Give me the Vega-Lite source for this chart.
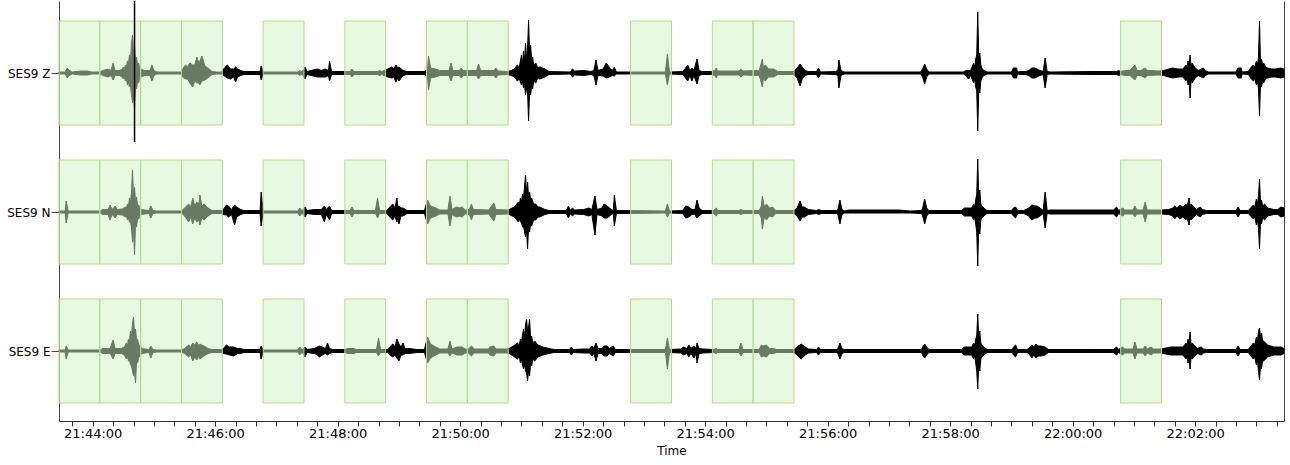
{
"$schema": "https://vega.github.io/schema/vega-lite/v6.json",
"autosize": {"type": "fit", "contains": "padding"},
"width": 1290,
"height": 465,
"padding": {"left": 0, "top": 0, "right": 4, "bottom": 9},
"background": "white",
"config": {"view": {"stroke": null}, "font": "DejaVu Sans"},
"datasets": {
"boxes": [
{"t":"2020-01-01T21:43:27Z","t2":"2020-01-01T21:44:07Z"},{"t":"2020-01-01T21:44:07Z","t2":"2020-01-01T21:44:47Z"},{"t":"2020-01-01T21:44:47Z","t2":"2020-01-01T21:45:27Z"},{"t":"2020-01-01T21:45:27Z","t2":"2020-01-01T21:46:07Z"},
{"t":"2020-01-01T21:46:47Z","t2":"2020-01-01T21:47:27Z"},{"t":"2020-01-01T21:48:07Z","t2":"2020-01-01T21:48:47Z"},{"t":"2020-01-01T21:49:27Z","t2":"2020-01-01T21:50:07Z"},{"t":"2020-01-01T21:50:07Z","t2":"2020-01-01T21:50:47Z"},
{"t":"2020-01-01T21:52:47Z","t2":"2020-01-01T21:53:27Z"},{"t":"2020-01-01T21:54:07Z","t2":"2020-01-01T21:54:47Z"},{"t":"2020-01-01T21:54:47Z","t2":"2020-01-01T21:55:27Z"},{"t":"2020-01-01T22:00:47Z","t2":"2020-01-01T22:01:27Z"}
],
"picks": [{"t":"2020-01-01T21:44:41Z"}],
"wave": [
{"c":"Z","t":"2020-01-01T21:43:27Z","u":1,"d":-1},{"c":"Z","t":"2020-01-01T21:43:33Z","u":1,"d":-1},{"c":"Z","t":"2020-01-01T21:43:35Z","u":5,"d":-5},{"c":"Z","t":"2020-01-01T21:43:37Z","u":2.5,"d":-2.5},{"c":"Z","t":"2020-01-01T21:43:40Z","u":1,"d":-1},{"c":"Z","t":"2020-01-01T21:43:48Z","u":2,"d":-2},{"c":"Z","t":"2020-01-01T21:43:55Z","u":2,"d":-2},{"c":"Z","t":"2020-01-01T21:43:59Z","u":1,"d":-1},
{"c":"Z","t":"2020-01-01T21:44:07Z","u":1,"d":-1},{"c":"Z","t":"2020-01-01T21:44:10Z","u":2.5,"d":-2.5},{"c":"Z","t":"2020-01-01T21:44:15Z","u":4,"d":-4},{"c":"Z","t":"2020-01-01T21:44:18Z","u":2.5,"d":-2.5},{"c":"Z","t":"2020-01-01T21:44:20Z","u":10,"d":-7},{"c":"Z","t":"2020-01-01T21:44:22Z","u":2.5,"d":-2.5},{"c":"Z","t":"2020-01-01T21:44:26Z","u":2.5,"d":-2.5},
{"c":"Z","t":"2020-01-01T21:44:29Z","u":4,"d":-4},{"c":"Z","t":"2020-01-01T21:44:30Z","u":6,"d":-6},{"c":"Z","t":"2020-01-01T21:44:31Z","u":4,"d":-4},{"c":"Z","t":"2020-01-01T21:44:32Z","u":8,"d":-8},{"c":"Z","t":"2020-01-01T21:44:33Z","u":6,"d":-6},{"c":"Z","t":"2020-01-01T21:44:34Z","u":12,"d":-12},{"c":"Z","t":"2020-01-01T21:44:35Z","u":9,"d":-9},{"c":"Z","t":"2020-01-01T21:44:36Z","u":18,"d":-14},{"c":"Z","t":"2020-01-01T21:44:37Z","u":12,"d":-12},{"c":"Z","t":"2020-01-01T21:44:38Z","u":30,"d":-22},{"c":"Z","t":"2020-01-01T21:44:39Z","u":38,"d":-30},{"c":"Z","t":"2020-01-01T21:44:40Z","u":20,"d":-25},{"c":"Z","t":"2020-01-01T21:44:41Z","u":28,"d":-35},{"c":"Z","t":"2020-01-01T21:44:42Z","u":12,"d":-12},{"c":"Z","t":"2020-01-01T21:44:43Z","u":16,"d":-16},{"c":"Z","t":"2020-01-01T21:44:44Z","u":8,"d":-8},{"c":"Z","t":"2020-01-01T21:44:45Z","u":10,"d":-10},{"c":"Z","t":"2020-01-01T21:44:46Z","u":5,"d":-5},{"c":"Z","t":"2020-01-01T21:44:47Z","u":4,"d":-4},
{"c":"Z","t":"2020-01-01T21:44:51Z","u":2.5,"d":-2.5},{"c":"Z","t":"2020-01-01T21:44:56Z","u":2.5,"d":-2.5},{"c":"Z","t":"2020-01-01T21:44:58Z","u":8,"d":-8},
{"c":"Z","t":"2020-01-01T21:45:00Z","u":2.5,"d":-2.5},{"c":"Z","t":"2020-01-01T21:45:03Z","u":1,"d":-1},{"c":"Z","t":"2020-01-01T21:45:27Z","u":1,"d":-1},{"c":"Z","t":"2020-01-01T21:45:28Z","u":4,"d":-4},{"c":"Z","t":"2020-01-01T21:45:31Z","u":8,"d":-6},{"c":"Z","t":"2020-01-01T21:45:33Z","u":6,"d":-6},{"c":"Z","t":"2020-01-01T21:45:35Z","u":10,"d":-10},{"c":"Z","t":"2020-01-01T21:45:38Z","u":8,"d":-14},{"c":"Z","t":"2020-01-01T21:45:40Z","u":8,"d":-8},{"c":"Z","t":"2020-01-01T21:45:42Z","u":16,"d":-10},{"c":"Z","t":"2020-01-01T21:45:44Z","u":10,"d":-10},{"c":"Z","t":"2020-01-01T21:45:45Z","u":12,"d":-12},{"c":"Z","t":"2020-01-01T21:45:47Z","u":17,"d":-8},{"c":"Z","t":"2020-01-01T21:45:50Z","u":7,"d":-7},{"c":"Z","t":"2020-01-01T21:45:54Z","u":4,"d":-4},{"c":"Z","t":"2020-01-01T21:45:57Z","u":1.5,"d":-1.5},
{"c":"Z","t":"2020-01-01T21:46:01Z","u":1,"d":-1},{"c":"Z","t":"2020-01-01T21:46:06Z","u":1,"d":-1},{"c":"Z","t":"2020-01-01T21:46:09Z","u":5,"d":-3},{"c":"Z","t":"2020-01-01T21:46:12Z","u":8,"d":-5},{"c":"Z","t":"2020-01-01T21:46:15Z","u":4,"d":-6},{"c":"Z","t":"2020-01-01T21:46:18Z","u":4,"d":-4},{"c":"Z","t":"2020-01-01T21:46:20Z","u":6,"d":-9},{"c":"Z","t":"2020-01-01T21:46:22Z","u":4,"d":-4},{"c":"Z","t":"2020-01-01T21:46:25Z","u":2.5,"d":-2.5},{"c":"Z","t":"2020-01-01T21:46:28Z","u":1.5,"d":-1.5},{"c":"Z","t":"2020-01-01T21:46:44Z","u":1.5,"d":-1.5},{"c":"Z","t":"2020-01-01T21:46:45Z","u":7,"d":-7},{"c":"Z","t":"2020-01-01T21:46:47Z","u":1,"d":-1},
{"c":"Z","t":"2020-01-01T21:47:21Z","u":1,"d":-1},{"c":"Z","t":"2020-01-01T21:47:23Z","u":2.5,"d":-2.5},{"c":"Z","t":"2020-01-01T21:47:25Z","u":1,"d":-1},{"c":"Z","t":"2020-01-01T21:47:28Z","u":6,"d":-6},{"c":"Z","t":"2020-01-01T21:47:30Z","u":1.5,"d":-1.5},{"c":"Z","t":"2020-01-01T21:47:34Z","u":2.5,"d":-2.5},{"c":"Z","t":"2020-01-01T21:47:40Z","u":4,"d":-4},{"c":"Z","t":"2020-01-01T21:47:44Z","u":2.5,"d":-4},{"c":"Z","t":"2020-01-01T21:47:48Z","u":4,"d":-4},{"c":"Z","t":"2020-01-01T21:47:51Z","u":2.5,"d":-2.5},{"c":"Z","t":"2020-01-01T21:47:52Z","u":12,"d":-8},{"c":"Z","t":"2020-01-01T21:47:54Z","u":1.5,"d":-1.5},
{"c":"Z","t":"2020-01-01T21:48:07Z","u":1.5,"d":-1.5},{"c":"Z","t":"2020-01-01T21:48:12Z","u":1.5,"d":-1.5},{"c":"Z","t":"2020-01-01T21:48:14Z","u":4,"d":-4},{"c":"Z","t":"2020-01-01T21:48:16Z","u":1.5,"d":-1.5},{"c":"Z","t":"2020-01-01T21:48:39Z","u":1.5,"d":-1.5},{"c":"Z","t":"2020-01-01T21:48:41Z","u":2.5,"d":-2.5},{"c":"Z","t":"2020-01-01T21:48:43Z","u":1.5,"d":-1.5},{"c":"Z","t":"2020-01-01T21:48:49Z","u":4,"d":-4},{"c":"Z","t":"2020-01-01T21:48:53Z","u":6,"d":-5},{"c":"Z","t":"2020-01-01T21:48:55Z","u":4,"d":-4},{"c":"Z","t":"2020-01-01T21:48:57Z","u":8,"d":-9},{"c":"Z","t":"2020-01-01T21:48:59Z","u":5,"d":-5},
{"c":"Z","t":"2020-01-01T21:49:00Z","u":6,"d":-8},{"c":"Z","t":"2020-01-01T21:49:04Z","u":2.5,"d":-2.5},{"c":"Z","t":"2020-01-01T21:49:08Z","u":1.5,"d":-1.5},{"c":"Z","t":"2020-01-01T21:49:25Z","u":1.5,"d":-1.5},{"c":"Z","t":"2020-01-01T21:49:28Z","u":4,"d":-4},{"c":"Z","t":"2020-01-01T21:49:29Z","u":17,"d":-17},{"c":"Z","t":"2020-01-01T21:49:31Z","u":5,"d":-5},{"c":"Z","t":"2020-01-01T21:49:36Z","u":4,"d":-4},{"c":"Z","t":"2020-01-01T21:49:40Z","u":2.5,"d":-2.5},{"c":"Z","t":"2020-01-01T21:49:49Z","u":2.5,"d":-2.5},{"c":"Z","t":"2020-01-01T21:49:51Z","u":10,"d":-8},{"c":"Z","t":"2020-01-01T21:49:53Z","u":2.5,"d":-2.5},{"c":"Z","t":"2020-01-01T21:49:59Z","u":2.5,"d":-2.5},
{"c":"Z","t":"2020-01-01T21:50:01Z","u":5,"d":-5},{"c":"Z","t":"2020-01-01T21:50:03Z","u":2.5,"d":-2.5},{"c":"Z","t":"2020-01-01T21:50:16Z","u":2.5,"d":-2.5},{"c":"Z","t":"2020-01-01T21:50:18Z","u":9,"d":-6},{"c":"Z","t":"2020-01-01T21:50:20Z","u":2.5,"d":-2.5},{"c":"Z","t":"2020-01-01T21:50:33Z","u":2.5,"d":-2.5},{"c":"Z","t":"2020-01-01T21:50:35Z","u":5,"d":-5},{"c":"Z","t":"2020-01-01T21:50:37Z","u":2,"d":-2},{"c":"Z","t":"2020-01-01T21:50:46Z","u":1.5,"d":-1.5},{"c":"Z","t":"2020-01-01T21:50:50Z","u":2.5,"d":-2.5},{"c":"Z","t":"2020-01-01T21:50:53Z","u":4,"d":-4},{"c":"Z","t":"2020-01-01T21:50:56Z","u":8,"d":-8},{"c":"Z","t":"2020-01-01T21:50:58Z","u":6,"d":-6},
{"c":"Z","t":"2020-01-01T21:51:00Z","u":18,"d":-12},{"c":"Z","t":"2020-01-01T21:51:01Z","u":8,"d":-8},{"c":"Z","t":"2020-01-01T21:51:02Z","u":22,"d":-15},{"c":"Z","t":"2020-01-01T21:51:03Z","u":12,"d":-12},{"c":"Z","t":"2020-01-01T21:51:04Z","u":30,"d":-22},{"c":"Z","t":"2020-01-01T21:51:05Z","u":15,"d":-15},{"c":"Z","t":"2020-01-01T21:51:06Z","u":25,"d":-20},{"c":"Z","t":"2020-01-01T21:51:07Z","u":53,"d":-48},{"c":"Z","t":"2020-01-01T21:51:08Z","u":18,"d":-18},{"c":"Z","t":"2020-01-01T21:51:09Z","u":28,"d":-22},{"c":"Z","t":"2020-01-01T21:51:10Z","u":12,"d":-12},{"c":"Z","t":"2020-01-01T21:51:11Z","u":16,"d":-16},{"c":"Z","t":"2020-01-01T21:51:12Z","u":8,"d":-8},{"c":"Z","t":"2020-01-01T21:51:14Z","u":10,"d":-10},{"c":"Z","t":"2020-01-01T21:51:16Z","u":5,"d":-5},{"c":"Z","t":"2020-01-01T21:51:18Z","u":6,"d":-6},{"c":"Z","t":"2020-01-01T21:51:23Z","u":4,"d":-4},{"c":"Z","t":"2020-01-01T21:51:27Z","u":1.5,"d":-1.5},{"c":"Z","t":"2020-01-01T21:51:48Z","u":1,"d":-1},{"c":"Z","t":"2020-01-01T21:51:50Z","u":4,"d":-4},{"c":"Z","t":"2020-01-01T21:51:52Z","u":2,"d":-2},
{"c":"Z","t":"2020-01-01T21:52:01Z","u":2.5,"d":-2.5},{"c":"Z","t":"2020-01-01T21:52:08Z","u":1.5,"d":-1.5},{"c":"Z","t":"2020-01-01T21:52:11Z","u":2.5,"d":-2.5},{"c":"Z","t":"2020-01-01T21:52:13Z","u":13,"d":-12},{"c":"Z","t":"2020-01-01T21:52:15Z","u":2.5,"d":-2.5},{"c":"Z","t":"2020-01-01T21:52:20Z","u":4,"d":-3},{"c":"Z","t":"2020-01-01T21:52:23Z","u":10,"d":-5},{"c":"Z","t":"2020-01-01T21:52:26Z","u":6,"d":-4},{"c":"Z","t":"2020-01-01T21:52:29Z","u":2.5,"d":-2.5},{"c":"Z","t":"2020-01-01T21:52:31Z","u":6,"d":-3},{"c":"Z","t":"2020-01-01T21:52:33Z","u":1,"d":-1},{"c":"Z","t":"2020-01-01T21:52:45Z","u":1,"d":-1},
{"c":"Z","t":"2020-01-01T21:53:21Z","u":1,"d":-1},{"c":"Z","t":"2020-01-01T21:53:23Z","u":19,"d":-12},{"c":"Z","t":"2020-01-01T21:53:25Z","u":1,"d":-1},{"c":"Z","t":"2020-01-01T21:53:38Z","u":1.5,"d":-1.5},{"c":"Z","t":"2020-01-01T21:53:40Z","u":4,"d":-4},{"c":"Z","t":"2020-01-01T21:53:43Z","u":8,"d":-8},{"c":"Z","t":"2020-01-01T21:53:45Z","u":2.5,"d":-2.5},{"c":"Z","t":"2020-01-01T21:53:47Z","u":5,"d":-8},{"c":"Z","t":"2020-01-01T21:53:49Z","u":2.5,"d":-2.5},{"c":"Z","t":"2020-01-01T21:53:52Z","u":14,"d":-11},{"c":"Z","t":"2020-01-01T21:53:54Z","u":2.5,"d":-2.5},{"c":"Z","t":"2020-01-01T21:53:57Z","u":1.5,"d":-1.5},
{"c":"Z","t":"2020-01-01T21:54:06Z","u":1.5,"d":-1.5},{"c":"Z","t":"2020-01-01T21:54:09Z","u":2.5,"d":-2.5},{"c":"Z","t":"2020-01-01T21:54:11Z","u":5,"d":-5},{"c":"Z","t":"2020-01-01T21:54:12Z","u":2,"d":-2},{"c":"Z","t":"2020-01-01T21:54:33Z","u":2,"d":-2},{"c":"Z","t":"2020-01-01T21:54:35Z","u":4,"d":-4},{"c":"Z","t":"2020-01-01T21:54:37Z","u":2,"d":-2},{"c":"Z","t":"2020-01-01T21:54:53Z","u":2.5,"d":-2.5},{"c":"Z","t":"2020-01-01T21:54:56Z","u":14,"d":-14},{"c":"Z","t":"2020-01-01T21:54:57Z","u":6,"d":-6},{"c":"Z","t":"2020-01-01T21:54:59Z","u":8,"d":-8},
{"c":"Z","t":"2020-01-01T21:55:02Z","u":4,"d":-4},{"c":"Z","t":"2020-01-01T21:55:07Z","u":4,"d":-4},{"c":"Z","t":"2020-01-01T21:55:11Z","u":1.5,"d":-1.5},{"c":"Z","t":"2020-01-01T21:55:27Z","u":1.5,"d":-1.5},{"c":"Z","t":"2020-01-01T21:55:30Z","u":5,"d":-5},{"c":"Z","t":"2020-01-01T21:55:33Z","u":9,"d":-13},{"c":"Z","t":"2020-01-01T21:55:35Z","u":6,"d":-6},{"c":"Z","t":"2020-01-01T21:55:38Z","u":2.5,"d":-2.5},{"c":"Z","t":"2020-01-01T21:55:41Z","u":1.5,"d":-1.5},{"c":"Z","t":"2020-01-01T21:55:49Z","u":1.5,"d":-1.5},{"c":"Z","t":"2020-01-01T21:55:51Z","u":5,"d":-5},{"c":"Z","t":"2020-01-01T21:55:53Z","u":1,"d":-1},
{"c":"Z","t":"2020-01-01T21:56:08Z","u":1.5,"d":-1.5},{"c":"Z","t":"2020-01-01T21:56:10Z","u":2.5,"d":-2.5},{"c":"Z","t":"2020-01-01T21:56:11Z","u":13,"d":-15},{"c":"Z","t":"2020-01-01T21:56:13Z","u":2.5,"d":-2.5},{"c":"Z","t":"2020-01-01T21:56:16Z","u":1,"d":-1},{"c":"Z","t":"2020-01-01T21:57:31Z","u":1,"d":-1},{"c":"Z","t":"2020-01-01T21:57:33Z","u":4,"d":-4},{"c":"Z","t":"2020-01-01T21:57:35Z","u":9,"d":-11},{"c":"Z","t":"2020-01-01T21:57:37Z","u":4,"d":-4},{"c":"Z","t":"2020-01-01T21:57:39Z","u":1,"d":-1},
{"c":"Z","t":"2020-01-01T21:58:13Z","u":1,"d":-1},{"c":"Z","t":"2020-01-01T21:58:15Z","u":2.5,"d":-2.5},{"c":"Z","t":"2020-01-01T21:58:18Z","u":2.5,"d":-6},{"c":"Z","t":"2020-01-01T21:58:20Z","u":2.5,"d":-2.5},{"c":"Z","t":"2020-01-01T21:58:23Z","u":10,"d":-10},{"c":"Z","t":"2020-01-01T21:58:24Z","u":5,"d":-5},{"c":"Z","t":"2020-01-01T21:58:25Z","u":14,"d":-14},{"c":"Z","t":"2020-01-01T21:58:26Z","u":18,"d":-18},{"c":"Z","t":"2020-01-01T21:58:27Z","u":61,"d":-58},{"c":"Z","t":"2020-01-01T21:58:28Z","u":15,"d":-15},{"c":"Z","t":"2020-01-01T21:58:29Z","u":20,"d":-20},{"c":"Z","t":"2020-01-01T21:58:30Z","u":8,"d":-8},{"c":"Z","t":"2020-01-01T21:58:31Z","u":5,"d":-5},{"c":"Z","t":"2020-01-01T21:58:33Z","u":2.5,"d":-2.5},{"c":"Z","t":"2020-01-01T21:58:36Z","u":1,"d":-1},
{"c":"Z","t":"2020-01-01T21:59:00Z","u":1,"d":-1},{"c":"Z","t":"2020-01-01T21:59:02Z","u":5,"d":-5},{"c":"Z","t":"2020-01-01T21:59:05Z","u":5,"d":-5},{"c":"Z","t":"2020-01-01T21:59:06Z","u":1,"d":-1},{"c":"Z","t":"2020-01-01T21:59:09Z","u":1.5,"d":-1.5},{"c":"Z","t":"2020-01-01T21:59:14Z","u":1.5,"d":-1.5},{"c":"Z","t":"2020-01-01T21:59:17Z","u":2.5,"d":-2.5},{"c":"Z","t":"2020-01-01T21:59:20Z","u":5,"d":-5},{"c":"Z","t":"2020-01-01T21:59:23Z","u":5,"d":-5},{"c":"Z","t":"2020-01-01T21:59:25Z","u":4,"d":-4},{"c":"Z","t":"2020-01-01T21:59:28Z","u":2.5,"d":-2.5},{"c":"Z","t":"2020-01-01T21:59:31Z","u":1.5,"d":-1.5},{"c":"Z","t":"2020-01-01T21:59:33Z","u":15,"d":-15},{"c":"Z","t":"2020-01-01T21:59:35Z","u":1.5,"d":-1.5},{"c":"Z","t":"2020-01-01T21:59:38Z","u":1,"d":-1},
{"c":"Z","t":"2020-01-01T22:00:20Z","u":1.5,"d":-1.5},{"c":"Z","t":"2020-01-01T22:00:43Z","u":1.5,"d":-1.5},{"c":"Z","t":"2020-01-01T22:00:45Z","u":2.5,"d":-2.5},{"c":"Z","t":"2020-01-01T22:00:47Z","u":1.5,"d":-1.5},{"c":"Z","t":"2020-01-01T22:00:51Z","u":2.5,"d":-2.5},{"c":"Z","t":"2020-01-01T22:00:56Z","u":2.5,"d":-2.5},{"c":"Z","t":"2020-01-01T22:01:01Z","u":8,"d":-7},{"c":"Z","t":"2020-01-01T22:01:03Z","u":2.5,"d":-2.5},{"c":"Z","t":"2020-01-01T22:01:07Z","u":2.5,"d":-2.5},{"c":"Z","t":"2020-01-01T22:01:09Z","u":4,"d":-4},{"c":"Z","t":"2020-01-01T22:01:11Z","u":5,"d":-5},{"c":"Z","t":"2020-01-01T22:01:13Z","u":2.5,"d":-2.5},{"c":"Z","t":"2020-01-01T22:01:24Z","u":2,"d":-2},{"c":"Z","t":"2020-01-01T22:01:29Z","u":2.5,"d":-2.5},{"c":"Z","t":"2020-01-01T22:01:34Z","u":4,"d":-4},{"c":"Z","t":"2020-01-01T22:01:38Z","u":5,"d":-5},{"c":"Z","t":"2020-01-01T22:01:43Z","u":4,"d":-4},{"c":"Z","t":"2020-01-01T22:01:48Z","u":4,"d":-4},{"c":"Z","t":"2020-01-01T22:01:51Z","u":8,"d":-8},{"c":"Z","t":"2020-01-01T22:01:52Z","u":5,"d":-5},{"c":"Z","t":"2020-01-01T22:01:53Z","u":12,"d":-12},{"c":"Z","t":"2020-01-01T22:01:54Z","u":7,"d":-7},{"c":"Z","t":"2020-01-01T22:01:55Z","u":18,"d":-25},{"c":"Z","t":"2020-01-01T22:01:56Z","u":6,"d":-6},{"c":"Z","t":"2020-01-01T22:01:57Z","u":10,"d":-10},
{"c":"Z","t":"2020-01-01T22:02:00Z","u":5,"d":-5},{"c":"Z","t":"2020-01-01T22:02:03Z","u":2.5,"d":-2.5},{"c":"Z","t":"2020-01-01T22:02:08Z","u":5,"d":-5},{"c":"Z","t":"2020-01-01T22:02:10Z","u":2.5,"d":-2.5},{"c":"Z","t":"2020-01-01T22:02:13Z","u":1,"d":-1},{"c":"Z","t":"2020-01-01T22:02:40Z","u":1,"d":-1},{"c":"Z","t":"2020-01-01T22:02:42Z","u":5,"d":-5},{"c":"Z","t":"2020-01-01T22:02:45Z","u":5,"d":-5},{"c":"Z","t":"2020-01-01T22:02:46Z","u":1,"d":-1},{"c":"Z","t":"2020-01-01T22:02:52Z","u":1.5,"d":-1.5},{"c":"Z","t":"2020-01-01T22:02:55Z","u":6,"d":-6},{"c":"Z","t":"2020-01-01T22:02:57Z","u":8,"d":-8},{"c":"Z","t":"2020-01-01T22:02:58Z","u":5,"d":-5},
{"c":"Z","t":"2020-01-01T22:03:00Z","u":12,"d":-12},{"c":"Z","t":"2020-01-01T22:03:01Z","u":8,"d":-8},{"c":"Z","t":"2020-01-01T22:03:02Z","u":16,"d":-16},{"c":"Z","t":"2020-01-01T22:03:03Z","u":52,"d":-43},{"c":"Z","t":"2020-01-01T22:03:04Z","u":10,"d":-10},{"c":"Z","t":"2020-01-01T22:03:05Z","u":14,"d":-14},{"c":"Z","t":"2020-01-01T22:03:06Z","u":8,"d":-8},{"c":"Z","t":"2020-01-01T22:03:07Z","u":10,"d":-10},{"c":"Z","t":"2020-01-01T22:03:09Z","u":6,"d":-6},{"c":"Z","t":"2020-01-01T22:03:11Z","u":5,"d":-5},{"c":"Z","t":"2020-01-01T22:03:15Z","u":4,"d":-4},{"c":"Z","t":"2020-01-01T22:03:19Z","u":4,"d":-4},{"c":"Z","t":"2020-01-01T22:03:24Z","u":5,"d":-5},{"c":"Z","t":"2020-01-01T22:03:27Z","u":4,"d":-4},

{"c":"N","t":"2020-01-01T21:43:27Z","u":1,"d":-1},{"c":"N","t":"2020-01-01T21:43:33Z","u":1,"d":-1},{"c":"N","t":"2020-01-01T21:43:34Z","u":11,"d":-11},{"c":"N","t":"2020-01-01T21:43:36Z","u":1,"d":-1},
{"c":"N","t":"2020-01-01T21:44:07Z","u":1,"d":-1},{"c":"N","t":"2020-01-01T21:44:10Z","u":2.5,"d":-2.5},{"c":"N","t":"2020-01-01T21:44:15Z","u":2.5,"d":-2.5},{"c":"N","t":"2020-01-01T21:44:17Z","u":7,"d":-8},{"c":"N","t":"2020-01-01T21:44:19Z","u":2.5,"d":-2.5},{"c":"N","t":"2020-01-01T21:44:22Z","u":6,"d":-6},{"c":"N","t":"2020-01-01T21:44:24Z","u":2.5,"d":-2.5},{"c":"N","t":"2020-01-01T21:44:29Z","u":3,"d":-3},
{"c":"N","t":"2020-01-01T21:44:32Z","u":5,"d":-5},{"c":"N","t":"2020-01-01T21:44:33Z","u":4,"d":-4},{"c":"N","t":"2020-01-01T21:44:34Z","u":8,"d":-8},{"c":"N","t":"2020-01-01T21:44:35Z","u":6,"d":-6},{"c":"N","t":"2020-01-01T21:44:36Z","u":14,"d":-10},{"c":"N","t":"2020-01-01T21:44:37Z","u":10,"d":-10},{"c":"N","t":"2020-01-01T21:44:38Z","u":20,"d":-15},{"c":"N","t":"2020-01-01T21:44:39Z","u":42,"d":-30},{"c":"N","t":"2020-01-01T21:44:40Z","u":15,"d":-20},{"c":"N","t":"2020-01-01T21:44:41Z","u":25,"d":-43},{"c":"N","t":"2020-01-01T21:44:42Z","u":10,"d":-10},{"c":"N","t":"2020-01-01T21:44:43Z","u":15,"d":-15},{"c":"N","t":"2020-01-01T21:44:44Z","u":6,"d":-6},{"c":"N","t":"2020-01-01T21:44:45Z","u":7,"d":-7},{"c":"N","t":"2020-01-01T21:44:47Z","u":2.5,"d":-2.5},
{"c":"N","t":"2020-01-01T21:44:55Z","u":1.5,"d":-1.5},{"c":"N","t":"2020-01-01T21:44:57Z","u":6,"d":-6},{"c":"N","t":"2020-01-01T21:44:59Z","u":1.5,"d":-1.5},
{"c":"N","t":"2020-01-01T21:45:03Z","u":1,"d":-1},{"c":"N","t":"2020-01-01T21:45:27Z","u":1,"d":-1},{"c":"N","t":"2020-01-01T21:45:30Z","u":4,"d":-4},{"c":"N","t":"2020-01-01T21:45:34Z","u":8,"d":-10},{"c":"N","t":"2020-01-01T21:45:36Z","u":5,"d":-5},{"c":"N","t":"2020-01-01T21:45:38Z","u":14,"d":-12},{"c":"N","t":"2020-01-01T21:45:40Z","u":6,"d":-6},{"c":"N","t":"2020-01-01T21:45:42Z","u":10,"d":-10},{"c":"N","t":"2020-01-01T21:45:44Z","u":8,"d":-8},{"c":"N","t":"2020-01-01T21:45:45Z","u":17,"d":-13},{"c":"N","t":"2020-01-01T21:45:47Z","u":6,"d":-6},{"c":"N","t":"2020-01-01T21:45:49Z","u":8,"d":-8},{"c":"N","t":"2020-01-01T21:45:53Z","u":4,"d":-4},{"c":"N","t":"2020-01-01T21:45:57Z","u":1.5,"d":-1.5},
{"c":"N","t":"2020-01-01T21:46:06Z","u":1.5,"d":-1.5},{"c":"N","t":"2020-01-01T21:46:08Z","u":2.5,"d":-2.5},{"c":"N","t":"2020-01-01T21:46:11Z","u":7,"d":-3},{"c":"N","t":"2020-01-01T21:46:13Z","u":6,"d":-5},{"c":"N","t":"2020-01-01T21:46:16Z","u":2.5,"d":-2.5},{"c":"N","t":"2020-01-01T21:46:19Z","u":7,"d":-13},{"c":"N","t":"2020-01-01T21:46:21Z","u":5,"d":-5},{"c":"N","t":"2020-01-01T21:46:25Z","u":2.5,"d":-2.5},{"c":"N","t":"2020-01-01T21:46:28Z","u":1.5,"d":-1.5},{"c":"N","t":"2020-01-01T21:46:44Z","u":1.5,"d":-1.5},{"c":"N","t":"2020-01-01T21:46:45Z","u":20,"d":-14},{"c":"N","t":"2020-01-01T21:46:47Z","u":1,"d":-1},
{"c":"N","t":"2020-01-01T21:47:21Z","u":1,"d":-1},{"c":"N","t":"2020-01-01T21:47:23Z","u":4,"d":-4},{"c":"N","t":"2020-01-01T21:47:25Z","u":1,"d":-1},{"c":"N","t":"2020-01-01T21:47:28Z","u":5,"d":-5},{"c":"N","t":"2020-01-01T21:47:30Z","u":1.5,"d":-1.5},{"c":"N","t":"2020-01-01T21:47:37Z","u":2.5,"d":-2.5},{"c":"N","t":"2020-01-01T21:47:44Z","u":2.5,"d":-2.5},{"c":"N","t":"2020-01-01T21:47:47Z","u":6,"d":-10},{"c":"N","t":"2020-01-01T21:47:49Z","u":2.5,"d":-2.5},{"c":"N","t":"2020-01-01T21:47:52Z","u":6,"d":-8},{"c":"N","t":"2020-01-01T21:47:54Z","u":1.5,"d":-1.5},
{"c":"N","t":"2020-01-01T21:48:07Z","u":1.5,"d":-1.5},{"c":"N","t":"2020-01-01T21:48:12Z","u":1.5,"d":-1.5},{"c":"N","t":"2020-01-01T21:48:14Z","u":5,"d":-5},{"c":"N","t":"2020-01-01T21:48:16Z","u":1.5,"d":-1.5},{"c":"N","t":"2020-01-01T21:48:37Z","u":1.5,"d":-1.5},{"c":"N","t":"2020-01-01T21:48:39Z","u":14,"d":-6},{"c":"N","t":"2020-01-01T21:48:41Z","u":1.5,"d":-1.5},{"c":"N","t":"2020-01-01T21:48:48Z","u":1.5,"d":-1.5},{"c":"N","t":"2020-01-01T21:48:50Z","u":4,"d":-4},{"c":"N","t":"2020-01-01T21:48:54Z","u":8,"d":-8},{"c":"N","t":"2020-01-01T21:48:56Z","u":4,"d":-4},{"c":"N","t":"2020-01-01T21:48:58Z","u":14,"d":-10},{"c":"N","t":"2020-01-01T21:48:59Z","u":5,"d":-5},
{"c":"N","t":"2020-01-01T21:49:00Z","u":6,"d":-12},{"c":"N","t":"2020-01-01T21:49:02Z","u":4,"d":-4},{"c":"N","t":"2020-01-01T21:49:04Z","u":4,"d":-4},{"c":"N","t":"2020-01-01T21:49:08Z","u":1.5,"d":-1.5},{"c":"N","t":"2020-01-01T21:49:25Z","u":1.5,"d":-1.5},{"c":"N","t":"2020-01-01T21:49:28Z","u":12,"d":-12},{"c":"N","t":"2020-01-01T21:49:31Z","u":6,"d":-6},{"c":"N","t":"2020-01-01T21:49:36Z","u":4,"d":-4},{"c":"N","t":"2020-01-01T21:49:40Z","u":2,"d":-2},{"c":"N","t":"2020-01-01T21:49:48Z","u":2,"d":-2},{"c":"N","t":"2020-01-01T21:49:50Z","u":16,"d":-14},{"c":"N","t":"2020-01-01T21:49:52Z","u":2.5,"d":-2.5},{"c":"N","t":"2020-01-01T21:49:56Z","u":5,"d":-5},{"c":"N","t":"2020-01-01T21:49:59Z","u":4,"d":-4},
{"c":"N","t":"2020-01-01T21:50:02Z","u":5,"d":-5},{"c":"N","t":"2020-01-01T21:50:05Z","u":2,"d":-2},{"c":"N","t":"2020-01-01T21:50:09Z","u":2.5,"d":-2.5},{"c":"N","t":"2020-01-01T21:50:11Z","u":8,"d":-8},{"c":"N","t":"2020-01-01T21:50:13Z","u":2.5,"d":-2.5},{"c":"N","t":"2020-01-01T21:50:28Z","u":2,"d":-2},{"c":"N","t":"2020-01-01T21:50:30Z","u":5,"d":-5},{"c":"N","t":"2020-01-01T21:50:33Z","u":9,"d":-9},{"c":"N","t":"2020-01-01T21:50:35Z","u":2.5,"d":-2.5},{"c":"N","t":"2020-01-01T21:50:46Z","u":2,"d":-2},{"c":"N","t":"2020-01-01T21:50:48Z","u":2.5,"d":-2.5},{"c":"N","t":"2020-01-01T21:50:53Z","u":5,"d":-5},{"c":"N","t":"2020-01-01T21:50:57Z","u":10,"d":-10},{"c":"N","t":"2020-01-01T21:50:58Z","u":7,"d":-7},{"c":"N","t":"2020-01-01T21:50:59Z","u":14,"d":-10},
{"c":"N","t":"2020-01-01T21:51:00Z","u":10,"d":-10},{"c":"N","t":"2020-01-01T21:51:01Z","u":18,"d":-15},{"c":"N","t":"2020-01-01T21:51:02Z","u":14,"d":-14},{"c":"N","t":"2020-01-01T21:51:03Z","u":25,"d":-20},{"c":"N","t":"2020-01-01T21:51:04Z","u":37,"d":-25},{"c":"N","t":"2020-01-01T21:51:05Z","u":18,"d":-18},{"c":"N","t":"2020-01-01T21:51:06Z","u":30,"d":-37},{"c":"N","t":"2020-01-01T21:51:07Z","u":15,"d":-15},{"c":"N","t":"2020-01-01T21:51:08Z","u":20,"d":-20},{"c":"N","t":"2020-01-01T21:51:09Z","u":12,"d":-12},{"c":"N","t":"2020-01-01T21:51:10Z","u":14,"d":-14},{"c":"N","t":"2020-01-01T21:51:12Z","u":8,"d":-8},{"c":"N","t":"2020-01-01T21:51:14Z","u":8,"d":-8},{"c":"N","t":"2020-01-01T21:51:16Z","u":5,"d":-5},{"c":"N","t":"2020-01-01T21:51:18Z","u":5,"d":-5},{"c":"N","t":"2020-01-01T21:51:23Z","u":2.5,"d":-2.5},{"c":"N","t":"2020-01-01T21:51:27Z","u":1.5,"d":-1.5},{"c":"N","t":"2020-01-01T21:51:44Z","u":1.5,"d":-1.5},{"c":"N","t":"2020-01-01T21:51:46Z","u":6,"d":-6},{"c":"N","t":"2020-01-01T21:51:48Z","u":1.5,"d":-1.5},{"c":"N","t":"2020-01-01T21:51:50Z","u":4,"d":-4},{"c":"N","t":"2020-01-01T21:51:52Z","u":2,"d":-2},
{"c":"N","t":"2020-01-01T21:52:01Z","u":2.5,"d":-2.5},{"c":"N","t":"2020-01-01T21:52:06Z","u":4,"d":-4},{"c":"N","t":"2020-01-01T21:52:09Z","u":2.5,"d":-2.5},{"c":"N","t":"2020-01-01T21:52:12Z","u":16,"d":-23},{"c":"N","t":"2020-01-01T21:52:14Z","u":2.5,"d":-2.5},{"c":"N","t":"2020-01-01T21:52:19Z","u":4,"d":-4},{"c":"N","t":"2020-01-01T21:52:21Z","u":8,"d":-6},{"c":"N","t":"2020-01-01T21:52:24Z","u":6,"d":-6},{"c":"N","t":"2020-01-01T21:52:28Z","u":2.5,"d":-2.5},{"c":"N","t":"2020-01-01T21:52:30Z","u":1.5,"d":-1.5},{"c":"N","t":"2020-01-01T21:52:31Z","u":17,"d":-14},{"c":"N","t":"2020-01-01T21:52:33Z","u":1.5,"d":-1.5},{"c":"N","t":"2020-01-01T21:52:45Z","u":1.5,"d":-1.5},
{"c":"N","t":"2020-01-01T21:53:21Z","u":1,"d":-1},{"c":"N","t":"2020-01-01T21:53:23Z","u":8,"d":-5},{"c":"N","t":"2020-01-01T21:53:25Z","u":1,"d":-1},{"c":"N","t":"2020-01-01T21:53:38Z","u":1.5,"d":-1.5},{"c":"N","t":"2020-01-01T21:53:41Z","u":6,"d":-6},{"c":"N","t":"2020-01-01T21:53:44Z","u":5,"d":-5},{"c":"N","t":"2020-01-01T21:53:47Z","u":2.5,"d":-2.5},{"c":"N","t":"2020-01-01T21:53:50Z","u":2.5,"d":-2.5},{"c":"N","t":"2020-01-01T21:53:52Z","u":12,"d":-6},{"c":"N","t":"2020-01-01T21:53:54Z","u":4,"d":-4},{"c":"N","t":"2020-01-01T21:53:57Z","u":1.5,"d":-1.5},
{"c":"N","t":"2020-01-01T21:54:08Z","u":1.5,"d":-1.5},{"c":"N","t":"2020-01-01T21:54:11Z","u":4,"d":-4},{"c":"N","t":"2020-01-01T21:54:12Z","u":1.5,"d":-1.5},{"c":"N","t":"2020-01-01T21:54:33Z","u":1.5,"d":-1.5},{"c":"N","t":"2020-01-01T21:54:35Z","u":2.5,"d":-2.5},{"c":"N","t":"2020-01-01T21:54:37Z","u":1.5,"d":-1.5},{"c":"N","t":"2020-01-01T21:54:53Z","u":1.5,"d":-1.5},{"c":"N","t":"2020-01-01T21:54:55Z","u":6,"d":-6},{"c":"N","t":"2020-01-01T21:54:56Z","u":16,"d":-17},{"c":"N","t":"2020-01-01T21:54:58Z","u":5,"d":-5},
{"c":"N","t":"2020-01-01T21:55:00Z","u":8,"d":-8},{"c":"N","t":"2020-01-01T21:55:03Z","u":4,"d":-4},{"c":"N","t":"2020-01-01T21:55:06Z","u":5,"d":-5},{"c":"N","t":"2020-01-01T21:55:09Z","u":1.5,"d":-1.5},{"c":"N","t":"2020-01-01T21:55:27Z","u":1.5,"d":-1.5},{"c":"N","t":"2020-01-01T21:55:30Z","u":4,"d":-4},{"c":"N","t":"2020-01-01T21:55:33Z","u":11,"d":-9},{"c":"N","t":"2020-01-01T21:55:35Z","u":5,"d":-5},{"c":"N","t":"2020-01-01T21:55:37Z","u":5,"d":-5},{"c":"N","t":"2020-01-01T21:55:41Z","u":2.5,"d":-2.5},{"c":"N","t":"2020-01-01T21:55:49Z","u":1.5,"d":-1.5},{"c":"N","t":"2020-01-01T21:55:51Z","u":2.5,"d":-2.5},{"c":"N","t":"2020-01-01T21:55:54Z","u":1.5,"d":-1.5},
{"c":"N","t":"2020-01-01T21:56:09Z","u":1.5,"d":-1.5},{"c":"N","t":"2020-01-01T21:56:10Z","u":2.5,"d":-2.5},{"c":"N","t":"2020-01-01T21:56:12Z","u":12,"d":-12},{"c":"N","t":"2020-01-01T21:56:14Z","u":2.5,"d":-2.5},{"c":"N","t":"2020-01-01T21:56:16Z","u":1,"d":-1},{"c":"N","t":"2020-01-01T21:56:21Z","u":2,"d":-1},{"c":"N","t":"2020-01-01T21:57:09Z","u":2,"d":-1},{"c":"N","t":"2020-01-01T21:57:21Z","u":1,"d":-1},{"c":"N","t":"2020-01-01T21:57:32Z","u":1.5,"d":-1.5},{"c":"N","t":"2020-01-01T21:57:33Z","u":4,"d":-4},{"c":"N","t":"2020-01-01T21:57:35Z","u":13,"d":-12},{"c":"N","t":"2020-01-01T21:57:37Z","u":4,"d":-4},{"c":"N","t":"2020-01-01T21:57:39Z","u":1.5,"d":-1.5},
{"c":"N","t":"2020-01-01T21:58:11Z","u":1.5,"d":-1.5},{"c":"N","t":"2020-01-01T21:58:14Z","u":4,"d":-4},{"c":"N","t":"2020-01-01T21:58:18Z","u":4,"d":-4},{"c":"N","t":"2020-01-01T21:58:21Z","u":4,"d":-4},{"c":"N","t":"2020-01-01T21:58:23Z","u":8,"d":-8},{"c":"N","t":"2020-01-01T21:58:24Z","u":5,"d":-5},{"c":"N","t":"2020-01-01T21:58:25Z","u":12,"d":-12},{"c":"N","t":"2020-01-01T21:58:26Z","u":18,"d":-20},{"c":"N","t":"2020-01-01T21:58:27Z","u":53,"d":-54},{"c":"N","t":"2020-01-01T21:58:28Z","u":12,"d":-12},{"c":"N","t":"2020-01-01T21:58:29Z","u":22,"d":-22},{"c":"N","t":"2020-01-01T21:58:30Z","u":8,"d":-8},{"c":"N","t":"2020-01-01T21:58:31Z","u":6,"d":-6},{"c":"N","t":"2020-01-01T21:58:33Z","u":4,"d":-4},{"c":"N","t":"2020-01-01T21:58:36Z","u":1.5,"d":-1.5},
{"c":"N","t":"2020-01-01T21:59:00Z","u":1.5,"d":-1.5},{"c":"N","t":"2020-01-01T21:59:02Z","u":4,"d":-4},{"c":"N","t":"2020-01-01T21:59:04Z","u":5,"d":-6},{"c":"N","t":"2020-01-01T21:59:06Z","u":1.5,"d":-1.5},{"c":"N","t":"2020-01-01T21:59:12Z","u":1.5,"d":-1.5},{"c":"N","t":"2020-01-01T21:59:17Z","u":4,"d":-4},{"c":"N","t":"2020-01-01T21:59:20Z","u":7,"d":-8},{"c":"N","t":"2020-01-01T21:59:23Z","u":6,"d":-6},{"c":"N","t":"2020-01-01T21:59:25Z","u":6,"d":-6},{"c":"N","t":"2020-01-01T21:59:28Z","u":4,"d":-4},{"c":"N","t":"2020-01-01T21:59:31Z","u":1.5,"d":-1.5},{"c":"N","t":"2020-01-01T21:59:33Z","u":20,"d":-16},{"c":"N","t":"2020-01-01T21:59:35Z","u":1.5,"d":-1.5},{"c":"N","t":"2020-01-01T21:59:38Z","u":2,"d":-2},
{"c":"N","t":"2020-01-01T22:00:20Z","u":2,"d":-2},{"c":"N","t":"2020-01-01T22:00:40Z","u":2,"d":-2},{"c":"N","t":"2020-01-01T22:00:43Z","u":5,"d":-5},{"c":"N","t":"2020-01-01T22:00:45Z","u":1.5,"d":-1.5},{"c":"N","t":"2020-01-01T22:00:49Z","u":4,"d":-4},{"c":"N","t":"2020-01-01T22:00:51Z","u":2,"d":-2},{"c":"N","t":"2020-01-01T22:00:59Z","u":2,"d":-2},{"c":"N","t":"2020-01-01T22:01:01Z","u":6,"d":-5},{"c":"N","t":"2020-01-01T22:01:03Z","u":2,"d":-2},{"c":"N","t":"2020-01-01T22:01:09Z","u":2,"d":-2},{"c":"N","t":"2020-01-01T22:01:11Z","u":10,"d":-10},{"c":"N","t":"2020-01-01T22:01:13Z","u":2,"d":-2},{"c":"N","t":"2020-01-01T22:01:27Z","u":2,"d":-2},{"c":"N","t":"2020-01-01T22:01:34Z","u":2.5,"d":-2.5},{"c":"N","t":"2020-01-01T22:01:38Z","u":4,"d":-4},{"c":"N","t":"2020-01-01T22:01:40Z","u":6,"d":-7},{"c":"N","t":"2020-01-01T22:01:42Z","u":4,"d":-4},{"c":"N","t":"2020-01-01T22:01:45Z","u":7,"d":-7},{"c":"N","t":"2020-01-01T22:01:48Z","u":5,"d":-5},{"c":"N","t":"2020-01-01T22:01:51Z","u":8,"d":-8},{"c":"N","t":"2020-01-01T22:01:52Z","u":5,"d":-5},{"c":"N","t":"2020-01-01T22:01:54Z","u":14,"d":-13},{"c":"N","t":"2020-01-01T22:01:55Z","u":6,"d":-6},{"c":"N","t":"2020-01-01T22:01:56Z","u":8,"d":-8},{"c":"N","t":"2020-01-01T22:01:58Z","u":6,"d":-6},
{"c":"N","t":"2020-01-01T22:02:01Z","u":2.5,"d":-2.5},{"c":"N","t":"2020-01-01T22:02:05Z","u":5,"d":-5},{"c":"N","t":"2020-01-01T22:02:07Z","u":2.5,"d":-2.5},{"c":"N","t":"2020-01-01T22:02:11Z","u":1.5,"d":-1.5},{"c":"N","t":"2020-01-01T22:02:40Z","u":1.5,"d":-1.5},{"c":"N","t":"2020-01-01T22:02:42Z","u":5,"d":-5},{"c":"N","t":"2020-01-01T22:02:44Z","u":1.5,"d":-1.5},{"c":"N","t":"2020-01-01T22:02:52Z","u":1.5,"d":-1.5},{"c":"N","t":"2020-01-01T22:02:57Z","u":7,"d":-7},{"c":"N","t":"2020-01-01T22:02:58Z","u":4,"d":-4},
{"c":"N","t":"2020-01-01T22:03:00Z","u":13,"d":-13},{"c":"N","t":"2020-01-01T22:03:01Z","u":8,"d":-8},{"c":"N","t":"2020-01-01T22:03:02Z","u":16,"d":-16},{"c":"N","t":"2020-01-01T22:03:03Z","u":33,"d":-37},{"c":"N","t":"2020-01-01T22:03:04Z","u":10,"d":-10},{"c":"N","t":"2020-01-01T22:03:05Z","u":12,"d":-12},{"c":"N","t":"2020-01-01T22:03:06Z","u":6,"d":-6},{"c":"N","t":"2020-01-01T22:03:08Z","u":8,"d":-8},{"c":"N","t":"2020-01-01T22:03:11Z","u":4,"d":-4},{"c":"N","t":"2020-01-01T22:03:17Z","u":2.5,"d":-2.5},{"c":"N","t":"2020-01-01T22:03:21Z","u":2.5,"d":-2.5},{"c":"N","t":"2020-01-01T22:03:24Z","u":5,"d":-5},{"c":"N","t":"2020-01-01T22:03:27Z","u":4,"d":-4},

{"c":"E","t":"2020-01-01T21:43:27Z","u":1,"d":-1},{"c":"E","t":"2020-01-01T21:43:33Z","u":1,"d":-1},{"c":"E","t":"2020-01-01T21:43:34Z","u":5,"d":-8},{"c":"E","t":"2020-01-01T21:43:36Z","u":1,"d":-1},
{"c":"E","t":"2020-01-01T21:44:07Z","u":1,"d":-1},{"c":"E","t":"2020-01-01T21:44:10Z","u":2.5,"d":-2.5},{"c":"E","t":"2020-01-01T21:44:17Z","u":2.5,"d":-2.5},{"c":"E","t":"2020-01-01T21:44:20Z","u":11,"d":-8},{"c":"E","t":"2020-01-01T21:44:22Z","u":2.5,"d":-2.5},{"c":"E","t":"2020-01-01T21:44:28Z","u":2.5,"d":-2.5},
{"c":"E","t":"2020-01-01T21:44:31Z","u":4,"d":-4},{"c":"E","t":"2020-01-01T21:44:33Z","u":8,"d":-8},{"c":"E","t":"2020-01-01T21:44:34Z","u":5,"d":-5},{"c":"E","t":"2020-01-01T21:44:35Z","u":12,"d":-10},{"c":"E","t":"2020-01-01T21:44:36Z","u":9,"d":-9},{"c":"E","t":"2020-01-01T21:44:37Z","u":20,"d":-14},{"c":"E","t":"2020-01-01T21:44:38Z","u":15,"d":-15},{"c":"E","t":"2020-01-01T21:44:39Z","u":28,"d":-20},{"c":"E","t":"2020-01-01T21:44:40Z","u":34,"d":-25},{"c":"E","t":"2020-01-01T21:44:41Z","u":18,"d":-22},{"c":"E","t":"2020-01-01T21:44:42Z","u":22,"d":-32},{"c":"E","t":"2020-01-01T21:44:43Z","u":10,"d":-10},{"c":"E","t":"2020-01-01T21:44:44Z","u":12,"d":-12},{"c":"E","t":"2020-01-01T21:44:45Z","u":6,"d":-6},{"c":"E","t":"2020-01-01T21:44:46Z","u":6,"d":-6},{"c":"E","t":"2020-01-01T21:44:48Z","u":2.5,"d":-2.5},
{"c":"E","t":"2020-01-01T21:44:55Z","u":1.5,"d":-1.5},{"c":"E","t":"2020-01-01T21:44:57Z","u":5,"d":-7},{"c":"E","t":"2020-01-01T21:44:59Z","u":1.5,"d":-1.5},
{"c":"E","t":"2020-01-01T21:45:03Z","u":1,"d":-1},{"c":"E","t":"2020-01-01T21:45:27Z","u":1,"d":-1},{"c":"E","t":"2020-01-01T21:45:30Z","u":2.5,"d":-2.5},{"c":"E","t":"2020-01-01T21:45:34Z","u":6,"d":-6},{"c":"E","t":"2020-01-01T21:45:36Z","u":4,"d":-4},{"c":"E","t":"2020-01-01T21:45:38Z","u":8,"d":-10},{"c":"E","t":"2020-01-01T21:45:40Z","u":6,"d":-6},{"c":"E","t":"2020-01-01T21:45:42Z","u":9,"d":-9},{"c":"E","t":"2020-01-01T21:45:44Z","u":5,"d":-5},{"c":"E","t":"2020-01-01T21:45:45Z","u":7,"d":-8},{"c":"E","t":"2020-01-01T21:45:49Z","u":5,"d":-5},{"c":"E","t":"2020-01-01T21:45:53Z","u":2.5,"d":-2.5},{"c":"E","t":"2020-01-01T21:45:57Z","u":1.5,"d":-1.5},
{"c":"E","t":"2020-01-01T21:46:06Z","u":1.5,"d":-1.5},{"c":"E","t":"2020-01-01T21:46:08Z","u":2.5,"d":-2.5},{"c":"E","t":"2020-01-01T21:46:11Z","u":6,"d":-3},{"c":"E","t":"2020-01-01T21:46:14Z","u":4,"d":-4},{"c":"E","t":"2020-01-01T21:46:18Z","u":4,"d":-5},{"c":"E","t":"2020-01-01T21:46:22Z","u":2.5,"d":-2.5},{"c":"E","t":"2020-01-01T21:46:25Z","u":2.5,"d":-2.5},{"c":"E","t":"2020-01-01T21:46:28Z","u":1.5,"d":-1.5},{"c":"E","t":"2020-01-01T21:46:44Z","u":1.5,"d":-1.5},{"c":"E","t":"2020-01-01T21:46:45Z","u":5,"d":-8},{"c":"E","t":"2020-01-01T21:46:47Z","u":1,"d":-1},
{"c":"E","t":"2020-01-01T21:47:21Z","u":1,"d":-1},{"c":"E","t":"2020-01-01T21:47:23Z","u":4,"d":-4},{"c":"E","t":"2020-01-01T21:47:25Z","u":1,"d":-1},{"c":"E","t":"2020-01-01T21:47:28Z","u":4,"d":-6},{"c":"E","t":"2020-01-01T21:47:30Z","u":1.5,"d":-1.5},{"c":"E","t":"2020-01-01T21:47:37Z","u":2.5,"d":-2.5},{"c":"E","t":"2020-01-01T21:47:40Z","u":4,"d":-4},{"c":"E","t":"2020-01-01T21:47:42Z","u":5,"d":-6},{"c":"E","t":"2020-01-01T21:47:45Z","u":4,"d":-4},{"c":"E","t":"2020-01-01T21:47:48Z","u":2.5,"d":-2.5},{"c":"E","t":"2020-01-01T21:47:50Z","u":8,"d":-4},{"c":"E","t":"2020-01-01T21:47:52Z","u":2.5,"d":-2.5},{"c":"E","t":"2020-01-01T21:47:55Z","u":1.5,"d":-1.5},
{"c":"E","t":"2020-01-01T21:48:07Z","u":1.5,"d":-1.5},{"c":"E","t":"2020-01-01T21:48:10Z","u":2.5,"d":-2.5},{"c":"E","t":"2020-01-01T21:48:14Z","u":2.5,"d":-2.5},{"c":"E","t":"2020-01-01T21:48:16Z","u":2.5,"d":-2.5},{"c":"E","t":"2020-01-01T21:48:18Z","u":1.5,"d":-1.5},{"c":"E","t":"2020-01-01T21:48:38Z","u":1.5,"d":-1.5},{"c":"E","t":"2020-01-01T21:48:40Z","u":13,"d":-5},{"c":"E","t":"2020-01-01T21:48:42Z","u":1.5,"d":-1.5},{"c":"E","t":"2020-01-01T21:48:49Z","u":1.5,"d":-1.5},{"c":"E","t":"2020-01-01T21:48:51Z","u":4,"d":-4},{"c":"E","t":"2020-01-01T21:48:54Z","u":7,"d":-6},{"c":"E","t":"2020-01-01T21:48:56Z","u":4,"d":-4},{"c":"E","t":"2020-01-01T21:48:58Z","u":12,"d":-7},
{"c":"E","t":"2020-01-01T21:49:00Z","u":7,"d":-10},{"c":"E","t":"2020-01-01T21:49:02Z","u":4,"d":-4},{"c":"E","t":"2020-01-01T21:49:04Z","u":8,"d":-4},{"c":"E","t":"2020-01-01T21:49:06Z","u":2.5,"d":-2.5},{"c":"E","t":"2020-01-01T21:49:10Z","u":2.5,"d":-2.5},{"c":"E","t":"2020-01-01T21:49:18Z","u":1.5,"d":-1.5},{"c":"E","t":"2020-01-01T21:49:25Z","u":1.5,"d":-1.5},{"c":"E","t":"2020-01-01T21:49:28Z","u":14,"d":-12},{"c":"E","t":"2020-01-01T21:49:31Z","u":7,"d":-7},{"c":"E","t":"2020-01-01T21:49:36Z","u":4,"d":-4},{"c":"E","t":"2020-01-01T21:49:40Z","u":2,"d":-2},{"c":"E","t":"2020-01-01T21:49:48Z","u":2,"d":-2},{"c":"E","t":"2020-01-01T21:49:50Z","u":10,"d":-5},{"c":"E","t":"2020-01-01T21:49:52Z","u":2,"d":-2},{"c":"E","t":"2020-01-01T21:49:57Z","u":4,"d":-4},
{"c":"E","t":"2020-01-01T21:50:02Z","u":4,"d":-4},{"c":"E","t":"2020-01-01T21:50:05Z","u":2,"d":-2},{"c":"E","t":"2020-01-01T21:50:08Z","u":2,"d":-2},{"c":"E","t":"2020-01-01T21:50:11Z","u":5,"d":-5},{"c":"E","t":"2020-01-01T21:50:14Z","u":2,"d":-2},{"c":"E","t":"2020-01-01T21:50:28Z","u":2,"d":-2},{"c":"E","t":"2020-01-01T21:50:29Z","u":4,"d":-4},{"c":"E","t":"2020-01-01T21:50:33Z","u":5,"d":-5},{"c":"E","t":"2020-01-01T21:50:35Z","u":2,"d":-2},{"c":"E","t":"2020-01-01T21:50:46Z","u":2,"d":-2},{"c":"E","t":"2020-01-01T21:50:48Z","u":2.5,"d":-2.5},{"c":"E","t":"2020-01-01T21:50:52Z","u":5,"d":-5},{"c":"E","t":"2020-01-01T21:50:56Z","u":8,"d":-8},{"c":"E","t":"2020-01-01T21:50:58Z","u":6,"d":-6},{"c":"E","t":"2020-01-01T21:50:59Z","u":12,"d":-12},
{"c":"E","t":"2020-01-01T21:51:00Z","u":8,"d":-8},{"c":"E","t":"2020-01-01T21:51:01Z","u":16,"d":-14},{"c":"E","t":"2020-01-01T21:51:02Z","u":22,"d":-18},{"c":"E","t":"2020-01-01T21:51:03Z","u":14,"d":-14},{"c":"E","t":"2020-01-01T21:51:04Z","u":26,"d":-20},{"c":"E","t":"2020-01-01T21:51:05Z","u":32,"d":-22},{"c":"E","t":"2020-01-01T21:51:06Z","u":20,"d":-30},{"c":"E","t":"2020-01-01T21:51:07Z","u":24,"d":-20},{"c":"E","t":"2020-01-01T21:51:08Z","u":32,"d":-25},{"c":"E","t":"2020-01-01T21:51:09Z","u":12,"d":-12},{"c":"E","t":"2020-01-01T21:51:10Z","u":15,"d":-15},{"c":"E","t":"2020-01-01T21:51:11Z","u":8,"d":-8},{"c":"E","t":"2020-01-01T21:51:13Z","u":10,"d":-10},{"c":"E","t":"2020-01-01T21:51:16Z","u":6,"d":-6},{"c":"E","t":"2020-01-01T21:51:21Z","u":4,"d":-4},{"c":"E","t":"2020-01-01T21:51:27Z","u":2.5,"d":-2.5},{"c":"E","t":"2020-01-01T21:51:32Z","u":1.5,"d":-1.5},{"c":"E","t":"2020-01-01T21:51:47Z","u":1.5,"d":-1.5},{"c":"E","t":"2020-01-01T21:51:49Z","u":4,"d":-4},{"c":"E","t":"2020-01-01T21:51:51Z","u":1.5,"d":-1.5},
{"c":"E","t":"2020-01-01T21:52:01Z","u":2,"d":-2},{"c":"E","t":"2020-01-01T21:52:07Z","u":2,"d":-2},{"c":"E","t":"2020-01-01T21:52:09Z","u":5,"d":-5},{"c":"E","t":"2020-01-01T21:52:11Z","u":2.5,"d":-2.5},{"c":"E","t":"2020-01-01T21:52:13Z","u":8,"d":-10},{"c":"E","t":"2020-01-01T21:52:15Z","u":2.5,"d":-2.5},{"c":"E","t":"2020-01-01T21:52:19Z","u":2.5,"d":-2.5},{"c":"E","t":"2020-01-01T21:52:21Z","u":5,"d":-5},{"c":"E","t":"2020-01-01T21:52:24Z","u":5,"d":-5},{"c":"E","t":"2020-01-01T21:52:26Z","u":2.5,"d":-2.5},{"c":"E","t":"2020-01-01T21:52:30Z","u":5,"d":-5},{"c":"E","t":"2020-01-01T21:52:32Z","u":1.5,"d":-1.5},{"c":"E","t":"2020-01-01T21:52:45Z","u":1.5,"d":-1.5},
{"c":"E","t":"2020-01-01T21:53:21Z","u":1.5,"d":-1.5},{"c":"E","t":"2020-01-01T21:53:23Z","u":13,"d":-18},{"c":"E","t":"2020-01-01T21:53:25Z","u":1.5,"d":-1.5},{"c":"E","t":"2020-01-01T21:53:36Z","u":2,"d":-2},{"c":"E","t":"2020-01-01T21:53:39Z","u":4,"d":-4},{"c":"E","t":"2020-01-01T21:53:42Z","u":2.5,"d":-2.5},{"c":"E","t":"2020-01-01T21:53:44Z","u":6,"d":-6},{"c":"E","t":"2020-01-01T21:53:46Z","u":2.5,"d":-2.5},{"c":"E","t":"2020-01-01T21:53:49Z","u":5,"d":-7},{"c":"E","t":"2020-01-01T21:53:51Z","u":2.5,"d":-2.5},{"c":"E","t":"2020-01-01T21:53:52Z","u":8,"d":-12},{"c":"E","t":"2020-01-01T21:53:54Z","u":2.5,"d":-2.5},{"c":"E","t":"2020-01-01T21:53:58Z","u":2,"d":-2},
{"c":"E","t":"2020-01-01T21:54:08Z","u":1.5,"d":-1.5},{"c":"E","t":"2020-01-01T21:54:11Z","u":2.5,"d":-2.5},{"c":"E","t":"2020-01-01T21:54:12Z","u":1.5,"d":-1.5},{"c":"E","t":"2020-01-01T21:54:33Z","u":1.5,"d":-1.5},{"c":"E","t":"2020-01-01T21:54:35Z","u":8,"d":-5},{"c":"E","t":"2020-01-01T21:54:37Z","u":1.5,"d":-1.5},{"c":"E","t":"2020-01-01T21:54:53Z","u":1.5,"d":-1.5},{"c":"E","t":"2020-01-01T21:54:55Z","u":6,"d":-6},{"c":"E","t":"2020-01-01T21:54:57Z","u":5,"d":-5},
{"c":"E","t":"2020-01-01T21:55:00Z","u":6,"d":-6},{"c":"E","t":"2020-01-01T21:55:03Z","u":2.5,"d":-2.5},{"c":"E","t":"2020-01-01T21:55:07Z","u":2.5,"d":-2.5},{"c":"E","t":"2020-01-01T21:55:10Z","u":1.5,"d":-1.5},{"c":"E","t":"2020-01-01T21:55:27Z","u":1.5,"d":-1.5},{"c":"E","t":"2020-01-01T21:55:30Z","u":4,"d":-4},{"c":"E","t":"2020-01-01T21:55:34Z","u":7,"d":-8},{"c":"E","t":"2020-01-01T21:55:38Z","u":4,"d":-4},{"c":"E","t":"2020-01-01T21:55:41Z","u":2,"d":-2},{"c":"E","t":"2020-01-01T21:55:49Z","u":1.5,"d":-1.5},{"c":"E","t":"2020-01-01T21:55:51Z","u":4,"d":-4},{"c":"E","t":"2020-01-01T21:55:53Z","u":1.5,"d":-1.5},
{"c":"E","t":"2020-01-01T21:56:09Z","u":1.5,"d":-1.5},{"c":"E","t":"2020-01-01T21:56:10Z","u":2.5,"d":-2.5},{"c":"E","t":"2020-01-01T21:56:12Z","u":8,"d":-8},{"c":"E","t":"2020-01-01T21:56:14Z","u":2.5,"d":-2.5},{"c":"E","t":"2020-01-01T21:56:16Z","u":1.5,"d":-1.5},{"c":"E","t":"2020-01-01T21:57:32Z","u":1.5,"d":-1.5},{"c":"E","t":"2020-01-01T21:57:33Z","u":4,"d":-4},{"c":"E","t":"2020-01-01T21:57:35Z","u":7,"d":-7},{"c":"E","t":"2020-01-01T21:57:37Z","u":4,"d":-4},{"c":"E","t":"2020-01-01T21:57:39Z","u":1.5,"d":-1.5},
{"c":"E","t":"2020-01-01T21:58:11Z","u":1.5,"d":-1.5},{"c":"E","t":"2020-01-01T21:58:14Z","u":4,"d":-4},{"c":"E","t":"2020-01-01T21:58:18Z","u":4,"d":-4},{"c":"E","t":"2020-01-01T21:58:21Z","u":4,"d":-4},{"c":"E","t":"2020-01-01T21:58:23Z","u":8,"d":-8},{"c":"E","t":"2020-01-01T21:58:24Z","u":5,"d":-5},{"c":"E","t":"2020-01-01T21:58:25Z","u":12,"d":-12},{"c":"E","t":"2020-01-01T21:58:26Z","u":15,"d":-20},{"c":"E","t":"2020-01-01T21:58:27Z","u":37,"d":-38},{"c":"E","t":"2020-01-01T21:58:28Z","u":12,"d":-12},{"c":"E","t":"2020-01-01T21:58:29Z","u":20,"d":-20},{"c":"E","t":"2020-01-01T21:58:30Z","u":8,"d":-8},{"c":"E","t":"2020-01-01T21:58:31Z","u":6,"d":-6},{"c":"E","t":"2020-01-01T21:58:33Z","u":4,"d":-4},{"c":"E","t":"2020-01-01T21:58:36Z","u":1.5,"d":-1.5},
{"c":"E","t":"2020-01-01T21:59:01Z","u":1.5,"d":-1.5},{"c":"E","t":"2020-01-01T21:59:02Z","u":4,"d":-4},{"c":"E","t":"2020-01-01T21:59:04Z","u":6,"d":-6},{"c":"E","t":"2020-01-01T21:59:06Z","u":1.5,"d":-1.5},{"c":"E","t":"2020-01-01T21:59:15Z","u":1.5,"d":-1.5},{"c":"E","t":"2020-01-01T21:59:17Z","u":2.5,"d":-2.5},{"c":"E","t":"2020-01-01T21:59:20Z","u":6,"d":-7},{"c":"E","t":"2020-01-01T21:59:22Z","u":4,"d":-4},{"c":"E","t":"2020-01-01T21:59:24Z","u":7,"d":-7},{"c":"E","t":"2020-01-01T21:59:26Z","u":5,"d":-5},{"c":"E","t":"2020-01-01T21:59:29Z","u":5,"d":-5},{"c":"E","t":"2020-01-01T21:59:33Z","u":4,"d":-4},{"c":"E","t":"2020-01-01T21:59:36Z","u":1.5,"d":-1.5},
{"c":"E","t":"2020-01-01T22:00:20Z","u":1.5,"d":-1.5},{"c":"E","t":"2020-01-01T22:00:40Z","u":1.5,"d":-1.5},{"c":"E","t":"2020-01-01T22:00:43Z","u":4,"d":-4},{"c":"E","t":"2020-01-01T22:00:45Z","u":1.5,"d":-1.5},{"c":"E","t":"2020-01-01T22:00:49Z","u":4,"d":-4},{"c":"E","t":"2020-01-01T22:00:51Z","u":2,"d":-2},{"c":"E","t":"2020-01-01T22:00:59Z","u":2,"d":-2},{"c":"E","t":"2020-01-01T22:01:01Z","u":9,"d":-8},{"c":"E","t":"2020-01-01T22:01:03Z","u":2,"d":-2},{"c":"E","t":"2020-01-01T22:01:09Z","u":2,"d":-2},{"c":"E","t":"2020-01-01T22:01:11Z","u":5,"d":-5},{"c":"E","t":"2020-01-01T22:01:13Z","u":2,"d":-2},{"c":"E","t":"2020-01-01T22:01:17Z","u":4,"d":-4},{"c":"E","t":"2020-01-01T22:01:19Z","u":2,"d":-2},{"c":"E","t":"2020-01-01T22:01:27Z","u":2,"d":-2},{"c":"E","t":"2020-01-01T22:01:36Z","u":4,"d":-4},{"c":"E","t":"2020-01-01T22:01:43Z","u":4,"d":-4},{"c":"E","t":"2020-01-01T22:01:48Z","u":4,"d":-4},{"c":"E","t":"2020-01-01T22:01:51Z","u":8,"d":-8},{"c":"E","t":"2020-01-01T22:01:52Z","u":5,"d":-5},{"c":"E","t":"2020-01-01T22:01:53Z","u":12,"d":-12},{"c":"E","t":"2020-01-01T22:01:54Z","u":7,"d":-7},{"c":"E","t":"2020-01-01T22:01:55Z","u":19,"d":-18},{"c":"E","t":"2020-01-01T22:01:56Z","u":6,"d":-6},{"c":"E","t":"2020-01-01T22:01:57Z","u":8,"d":-8},{"c":"E","t":"2020-01-01T22:01:59Z","u":6,"d":-6},
{"c":"E","t":"2020-01-01T22:02:02Z","u":2.5,"d":-2.5},{"c":"E","t":"2020-01-01T22:02:06Z","u":4,"d":-4},{"c":"E","t":"2020-01-01T22:02:08Z","u":2,"d":-2},{"c":"E","t":"2020-01-01T22:02:11Z","u":1.5,"d":-1.5},{"c":"E","t":"2020-01-01T22:02:40Z","u":1.5,"d":-1.5},{"c":"E","t":"2020-01-01T22:02:42Z","u":5,"d":-5},{"c":"E","t":"2020-01-01T22:02:44Z","u":1.5,"d":-1.5},{"c":"E","t":"2020-01-01T22:02:52Z","u":1.5,"d":-1.5},{"c":"E","t":"2020-01-01T22:02:57Z","u":8,"d":-8},{"c":"E","t":"2020-01-01T22:02:58Z","u":5,"d":-5},
{"c":"E","t":"2020-01-01T22:03:00Z","u":14,"d":-14},{"c":"E","t":"2020-01-01T22:03:01Z","u":10,"d":-10},{"c":"E","t":"2020-01-01T22:03:02Z","u":20,"d":-20},{"c":"E","t":"2020-01-01T22:03:03Z","u":23,"d":-29},{"c":"E","t":"2020-01-01T22:03:04Z","u":14,"d":-14},{"c":"E","t":"2020-01-01T22:03:05Z","u":18,"d":-18},{"c":"E","t":"2020-01-01T22:03:06Z","u":10,"d":-10},{"c":"E","t":"2020-01-01T22:03:07Z","u":10,"d":-10},{"c":"E","t":"2020-01-01T22:03:11Z","u":6,"d":-6},{"c":"E","t":"2020-01-01T22:03:17Z","u":4,"d":-4},{"c":"E","t":"2020-01-01T22:03:24Z","u":4,"d":-4},{"c":"E","t":"2020-01-01T22:03:27Z","u":2.5,"d":-2.5}
]
},
"layer": [
{"data": {"name": "wave"},
 "transform": [{"filter": "datum.c === 'Z'"}],
 "mark": {"type": "area", "fill": "black", "stroke": "black", "strokeWidth": 1, "interpolate": "linear"},
 "encoding": {
  "x": {"field": "t", "type": "temporal", "scale": {"type": "utc", "domain": [{"year": 2020, "month": 1, "date": 1, "hours": 21, "minutes": 43, "seconds": 27, "utc": true}, {"year": 2020, "month": 1, "date": 1, "hours": 22, "minutes": 3, "seconds": 27, "utc": true}]},
   "axis": {"title": "Time", "format": "%H:%M:%S", "tickCount": 100,
    "values": [1577915020000,1577915040000,1577915060000,1577915080000,1577915100000,1577915120000,1577915140000,1577915160000,1577915180000,1577915200000,1577915220000,1577915240000,1577915260000,1577915280000,1577915300000,1577915320000,1577915340000,1577915360000,1577915380000,1577915400000,1577915420000,1577915440000,1577915460000,1577915480000,1577915500000,1577915520000,1577915540000,1577915560000,1577915580000,1577915600000,1577915620000,1577915640000,1577915660000,1577915680000,1577915700000,1577915720000,1577915740000,1577915760000,1577915780000,1577915800000,1577915820000,1577915840000,1577915860000,1577915880000,1577915900000,1577915920000,1577915940000,1577915960000,1577915980000,1577916000000,1577916020000,1577916040000,1577916060000,1577916080000,1577916100000,1577916120000,1577916140000,1577916160000,1577916180000,1577916200000],
    "labelExpr": "utcseconds(datum.value) == 0 && utcminutes(datum.value) % 2 == 0 ? datum.label : ''",
    "labelOverlap": false, "labelFlush": false, "tickSize": 5, "labelFontSize": 13, "labelColor": "black", "labelPadding": 1, "titleFontSize": 12, "titleFontWeight": "normal", "titleColor": "black", "titlePadding": 5, "domainColor": "#333", "tickColor": "#333", "grid": false}},
  "y": {"field": "u", "type": "quantitative", "scale": {"domain": [-348, 72]}, "axis": {"values": [0, -139, -278], "labelExpr": "datum.value == 0 ? 'SES9 Z' : datum.value == -139 ? 'SES9 N' : 'SES9 E'", "title": null, "grid": false, "tickSize": 8, "labelPadding": 1, "labelFontSize": 12, "labelColor": "black", "domainColor": "#444", "tickColor": "#444", "minExtent": 59, "maxExtent": 59}},
  "y2": {"field": "d"}}},
{"data": {"name": "wave"},
 "transform": [{"filter": "datum.c === 'N'"}],
 "mark": {"type": "area", "fill": "black", "stroke": "black", "strokeWidth": 1, "interpolate": "linear"},
 "encoding": {
  "x": {"field": "t", "type": "temporal"},
  "y": {"field": "u", "type": "quantitative", "scale": {"domain": [-209, 211]}, "axis": null},
  "y2": {"field": "d"}}},
{"data": {"name": "wave"},
 "transform": [{"filter": "datum.c === 'E'"}],
 "mark": {"type": "area", "fill": "black", "stroke": "black", "strokeWidth": 1, "interpolate": "linear"},
 "encoding": {
  "x": {"field": "t", "type": "temporal"},
  "y": {"field": "u", "type": "quantitative", "scale": {"domain": [-70, 350]}, "axis": null},
  "y2": {"field": "d"}}},
{"data": {"name": "boxes"},
 "mark": {"type": "rect", "fill": "#d0f4c4", "fillOpacity": 0.5, "stroke": "#b2dc84", "strokeWidth": 1},
 "encoding": {
  "x": {"field": "t", "type": "temporal"},
  "x2": {"field": "t2"},
  "y": {"datum": 52, "type": "quantitative", "scale": {"domain": [-348, 72]}, "axis": {"orient": "right", "labels": false, "ticks": false, "title": null, "grid": false, "domainColor": "#444", "minExtent": 0, "maxExtent": 0}},
  "y2": {"datum": -52}}},
{"data": {"name": "boxes"},
 "mark": {"type": "rect", "fill": "#d0f4c4", "fillOpacity": 0.5, "stroke": "#b2dc84", "strokeWidth": 1},
 "encoding": {
  "x": {"field": "t", "type": "temporal"},
  "x2": {"field": "t2"},
  "y": {"datum": 52, "type": "quantitative", "scale": {"domain": [-209, 211]}, "axis": null},
  "y2": {"datum": -52}}},
{"data": {"name": "boxes"},
 "mark": {"type": "rect", "fill": "#d0f4c4", "fillOpacity": 0.5, "stroke": "#b2dc84", "strokeWidth": 1},
 "encoding": {
  "x": {"field": "t", "type": "temporal"},
  "x2": {"field": "t2"},
  "y": {"datum": 52, "type": "quantitative", "scale": {"domain": [-70, 350]}, "axis": null},
  "y2": {"datum": -52}}},
{"data": {"name": "picks"},
 "mark": {"type": "rule", "color": "black", "strokeWidth": 1.5},
 "encoding": {
  "x": {"field": "t", "type": "temporal"},
  "y": {"datum": 72, "type": "quantitative", "scale": {"domain": [-348, 72]}, "axis": null},
  "y2": {"datum": -69}}}
],
"resolve": {"scale": {"y": "independent"}, "axis": {"y": "independent"}}
}
